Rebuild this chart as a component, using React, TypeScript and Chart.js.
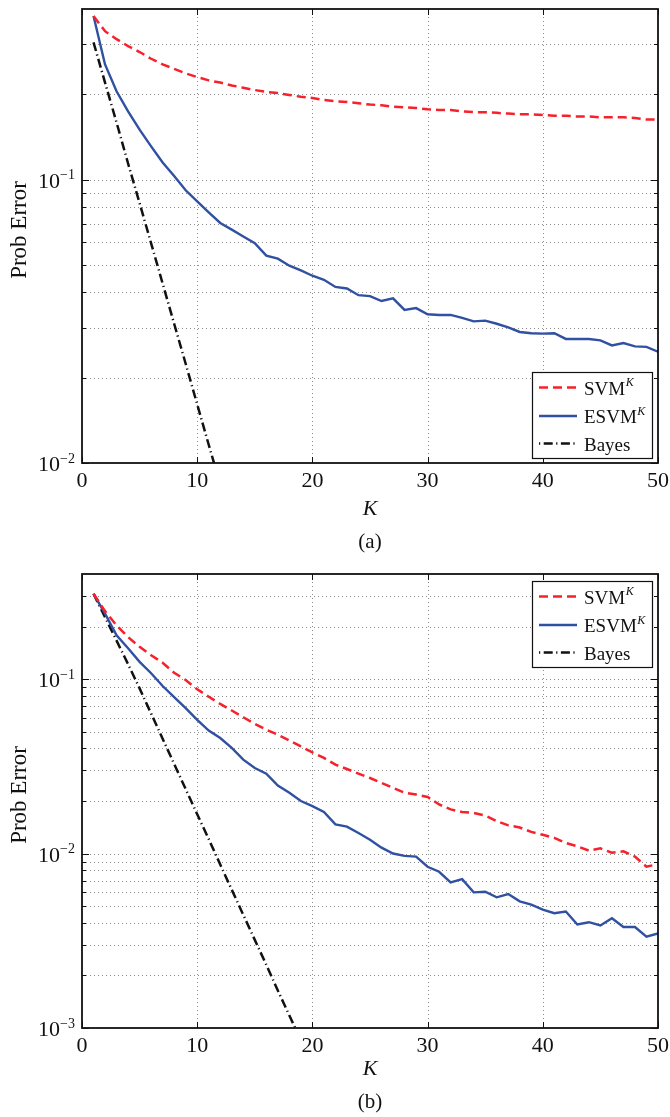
import React, { useEffect, useRef } from 'react';
import { Chart, registerables } from 'chart.js';

Chart.register(...registerables);

// ---------- data ----------
const kValues = [1, 2, 3, 4, 5, 6, 7, 8, 9, 10, 11, 12, 13, 14, 15, 16, 17, 18, 19, 20, 21, 22, 23, 24, 25,
  26, 27, 28, 29, 30, 31, 32, 33, 34, 35, 36, 37, 38, 39, 40, 41, 42, 43, 44, 45, 46, 47, 48, 49, 50];

// (a)
const svmA = [0.378, 0.334, 0.313, 0.296, 0.282, 0.267, 0.255, 0.246, 0.237, 0.230, 0.224, 0.220, 0.215, 0.211,
  0.207, 0.204, 0.202, 0.199, 0.196, 0.194, 0.191, 0.189, 0.188, 0.186, 0.184, 0.183, 0.181, 0.180, 0.179, 0.177,
  0.176, 0.176, 0.174, 0.173, 0.173, 0.172, 0.171, 0.170, 0.170, 0.169, 0.168, 0.168, 0.167, 0.167, 0.166, 0.166,
  0.166, 0.165, 0.163, 0.163];
const esvmA = [0.378, 0.255, 0.205, 0.174, 0.150, 0.131, 0.115, 0.103, 0.0917, 0.0838, 0.0767, 0.0703, 0.0666,
  0.063, 0.0597, 0.0539, 0.0526, 0.0497, 0.0478, 0.0458, 0.0443, 0.0418, 0.0413, 0.0391, 0.0388, 0.0373, 0.0381,
  0.0347, 0.0352, 0.0335, 0.0333, 0.0333, 0.0325, 0.0316, 0.0318, 0.031, 0.0301, 0.029, 0.0287, 0.0286, 0.0287,
  0.0274, 0.0274, 0.0274, 0.0271, 0.026, 0.0265, 0.0258, 0.0257, 0.0247];
const kBayesA = [1, 2, 3, 4, 5, 6, 7, 8, 9, 10, 11, 12];
const bayesA = [0.305, 0.220, 0.159, 0.114, 0.0826, 0.0596, 0.0430, 0.0310, 0.0224, 0.0161, 0.0116, 0.0084];

// (b)
const svmB = [0.308, 0.245, 0.203, 0.174, 0.153, 0.137, 0.124, 0.1086, 0.0987, 0.0873, 0.0792, 0.072, 0.066,
  0.0604, 0.0554, 0.0512, 0.048, 0.0445, 0.0411, 0.038, 0.0353, 0.0323, 0.0305, 0.0287, 0.0271, 0.0254, 0.0238,
  0.0223, 0.0218, 0.0211, 0.0191, 0.0179, 0.0173, 0.0171, 0.0165, 0.01535, 0.0145, 0.0141, 0.0133, 0.0128, 0.0123,
  0.0115, 0.0110, 0.0104, 0.0107, 0.0101, 0.0103, 0.0096, 0.0084, 0.0087];
const esvmB = [0.308, 0.237, 0.178, 0.150, 0.1255, 0.108, 0.0912, 0.0787, 0.0681, 0.0584, 0.0507, 0.0459, 0.0403,
  0.0345, 0.0309, 0.0287, 0.0245, 0.0223, 0.020, 0.0187, 0.0173, 0.0147, 0.01426, 0.0131, 0.012, 0.0108, 0.0100,
  0.0097, 0.0096, 0.0084, 0.00786, 0.00684, 0.00713, 0.00599, 0.00604, 0.00561, 0.00586, 0.00532, 0.00509, 0.00477,
  0.00455, 0.00465, 0.00392, 0.00404, 0.00387, 0.00426, 0.00379, 0.00379, 0.00334, 0.00348];
const kBayesB = [1, 2, 3, 4, 5, 6, 7, 8, 9, 10, 11, 12, 13, 14, 15, 16, 17, 18, 19];
const bayesB = [0.308, 0.226, 0.166, 0.1217, 0.0884, 0.0634, 0.0455, 0.0326, 0.0234, 0.0168, 0.0121, 0.00864,
  0.0062, 0.00445, 0.0032, 0.0023, 0.00164, 0.00118, 0.00085];

// ticks / grid
const xTicks = [0, 10, 20, 30, 40, 50];
const xTickLabels = ['0', '10', '20', '30', '40', '50'];
const yDecadesA = [0.01, 0.1];
const yExpA = ['\u22122', '\u22121'];
const yMinorA = [0.02, 0.03, 0.04, 0.05, 0.06, 0.07, 0.08, 0.09, 0.2, 0.3];
const yDecadesB = [0.001, 0.01, 0.1];
const yExpB = ['\u22123', '\u22122', '\u22121'];
const yMinorB = [0.002, 0.003, 0.004, 0.005, 0.006, 0.007, 0.008, 0.009,
  0.02, 0.03, 0.04, 0.05, 0.06, 0.07, 0.08, 0.09, 0.2, 0.3];

const seriesNames = ['SVM', 'ESVM', 'Bayes'];
const seriesSup = ['K', 'K', ''];

const RED = '#f8202a';
const BLUE = '#3050a2';
const BLACK = '#111111';
const FONT = '"Liberation Serif", "DejaVu Serif", serif';

type Cfg = {
  yMin: number;
  yMax: number;
  decades: number[];
  exps: string[];
  minor: number[];
  caption: string;
  legendAtTop: boolean;
  padTop: number;
  axisH: number;
  canvasH: number;
};

function makePlugin(cfg: Cfg) {
  return {
    id: 'paperDecor',
    beforeDatasetsDraw(chart: any) {
      const { ctx, chartArea: a, scales } = chart;
      const xs = scales.x, ys = scales.y;
      ctx.save();
      ctx.strokeStyle = '#8c8c8c';
      ctx.lineWidth = 1;
      ctx.setLineDash([1, 3]);
      for (const v of xTicks) {
        const px = Math.round(xs.getPixelForValue(v)) + 0.5;
        if (px < a.left + 2 || px > a.right - 2) continue;
        ctx.beginPath();
        ctx.moveTo(px, a.top);
        ctx.lineTo(px, a.bottom);
        ctx.stroke();
      }
      for (const v of [...cfg.decades, ...cfg.minor]) {
        const py = Math.round(ys.getPixelForValue(v)) + 0.5;
        if (py < a.top + 2 || py > a.bottom - 2) continue;
        ctx.beginPath();
        ctx.moveTo(a.left, py);
        ctx.lineTo(a.right, py);
        ctx.stroke();
      }
      ctx.restore();
    },
    afterDatasetsDraw(chart: any) {
      const { ctx, chartArea: a, scales } = chart;
      const xs = scales.x, ys = scales.y;
      ctx.save();
      ctx.setLineDash([]);
      ctx.strokeStyle = BLACK;
      // inward ticks
      ctx.lineWidth = 1;
      for (const v of xTicks) {
        const px = Math.round(xs.getPixelForValue(v)) + 0.5;
        ctx.beginPath();
        ctx.moveTo(px, a.bottom); ctx.lineTo(px, a.bottom - 6);
        ctx.moveTo(px, a.top); ctx.lineTo(px, a.top + 6);
        ctx.stroke();
      }
      const yTickSet: [number, number][] = [
        ...cfg.decades.map((v) => [v, 7] as [number, number]),
        ...cfg.minor.map((v) => [v, 4] as [number, number]),
      ];
      for (const [v, len] of yTickSet) {
        const py = Math.round(ys.getPixelForValue(v)) + 0.5;
        ctx.beginPath();
        ctx.moveTo(a.left, py); ctx.lineTo(a.left + len, py);
        ctx.moveTo(a.right, py); ctx.lineTo(a.right - len, py);
        ctx.stroke();
      }
      // frame
      ctx.lineWidth = 1.8;
      ctx.strokeRect(a.left, a.top, a.right - a.left, a.bottom - a.top);

      // legend
      const bw = 120, bh = 86;
      const bx = a.right - 6 - bw;
      const by = cfg.legendAtTop ? a.top + 7 : a.bottom - 5 - bh;
      ctx.fillStyle = '#ffffff';
      ctx.fillRect(bx, by, bw, bh);
      ctx.lineWidth = 1.2;
      ctx.strokeStyle = BLACK;
      ctx.strokeRect(bx + 0.5, by + 0.5, bw, bh);
      const rows = [15.5, 44, 71.5];
      chart.data.datasets.forEach((ds: any, i: number) => {
        const ry = by + rows[i];
        ctx.save();
        ctx.strokeStyle = ds.borderColor;
        ctx.lineWidth = ds.borderWidth;
        ctx.setLineDash(ds.legendDash || ds.borderDash || []);
        ctx.beginPath();
        ctx.moveTo(bx + 7, ry);
        ctx.lineTo(bx + 45, ry);
        ctx.stroke();
        ctx.restore();
        ctx.fillStyle = BLACK;
        ctx.textAlign = 'left';
        ctx.textBaseline = 'alphabetic';
        ctx.font = `19px ${FONT}`;
        const name = seriesNames[i];
        ctx.fillText(name, bx + 52, ry + 7);
        if (seriesSup[i]) {
          const w = ctx.measureText(name).width;
          ctx.font = `italic 12px ${FONT}`;
          ctx.fillText(seriesSup[i], bx + 52 + w + 0.5, ry - 1.5);
        }
      });

      // x tick labels
      ctx.fillStyle = BLACK;
      ctx.font = `22px ${FONT}`;
      ctx.textAlign = 'center';
      ctx.textBaseline = 'alphabetic';
      xTicks.forEach((v, i) => {
        const px = xs.getPixelForValue(v);
        ctx.fillText(xTickLabels[i], px, a.bottom + 16 + 7.5);
      });
      // y tick labels 10^n
      cfg.decades.forEach((v, i) => {
        const py = ys.getPixelForValue(v);
        ctx.font = `14px ${FONT}`;
        const ws = ctx.measureText(cfg.exps[i]).width;
        ctx.font = `22px ${FONT}`;
        const wb = ctx.measureText('10').width;
        const right = a.left - 7;
        ctx.textAlign = 'left';
        ctx.fillText('10', right - ws - wb, py + 8);
        ctx.font = `14px ${FONT}`;
        ctx.fillText(cfg.exps[i], right - ws, py - 0.5);
      });
      // axis titles
      ctx.textAlign = 'center';
      ctx.font = `italic 22px ${FONT}`;
      ctx.fillText('K', (a.left + a.right) / 2, 507 + 7.5);
      ctx.font = `21px ${FONT}`;
      ctx.fillText(cfg.caption, (a.left + a.right) / 2, 541 + 7);
      ctx.save();
      ctx.translate(20, (a.top + a.bottom) / 2 - 6);
      ctx.rotate(-Math.PI / 2);
      ctx.font = `23px ${FONT}`;
      ctx.textBaseline = 'middle';
      ctx.fillText('Prob Error', 0, 0);
      ctx.restore();
      ctx.restore();
    },
  };
}

function pts(ks: number[], vs: number[]) {
  return ks.map((k, i) => ({ x: k, y: vs[i] }));
}

function PaperChart({ cfg, svm, esvm, kb, bayes, top }: any) {
  const ref = useRef<HTMLCanvasElement | null>(null);
  useEffect(() => {
    if (!ref.current) return;
    const chart = new Chart(ref.current, {
      type: 'line',
      data: {
        datasets: [
          { label: seriesNames[0], data: pts(kValues, svm), borderColor: RED, borderWidth: 2.5, borderDash: [9, 5], pointRadius: 0, tension: 0, fill: false } as any,
          { label: seriesNames[1], data: pts(kValues, esvm), borderColor: BLUE, borderWidth: 2.4, pointRadius: 0, tension: 0, fill: false } as any,
          { label: seriesNames[2], data: pts(kb, bayes), borderColor: BLACK, borderWidth: 2.5, borderDash: [9, 3.5, 1.2, 3.5], legendDash: [1.2, 3.5, 9, 3.5], pointRadius: 0, tension: 0, fill: false } as any,
        ],
      },
      options: {
        responsive: false,
        animation: false,
        events: [],
        layout: { padding: { left: 0, right: 12, top: cfg.padTop, bottom: 0 } },
        plugins: { legend: { display: false }, tooltip: { enabled: false } },
        scales: {
          x: {
            type: 'linear', min: 0, max: 50,
            ticks: { display: false }, grid: { display: false }, border: { display: false },
            afterFit: (s: any) => { s.height = cfg.axisH; },
          },
          y: {
            type: 'logarithmic', min: cfg.yMin, max: cfg.yMax,
            ticks: { display: false }, grid: { display: false }, border: { display: false },
            afterFit: (s: any) => { s.width = 82; },
          },
        },
      } as any,
      plugins: [makePlugin(cfg) as any],
    });
    return () => chart.destroy();
  }, []);
  return (
    <canvas
      ref={ref}
      width={670}
      height={cfg.canvasH}
      style={{ position: 'absolute', left: 0, top, width: 670, height: cfg.canvasH, display: 'block' }}
    />
  );
}

const cfgA: Cfg = {
  yMin: 0.01, yMax: 0.4, decades: yDecadesA, exps: yExpA, minor: yMinorA, caption: '(a)',
  legendAtTop: false, padTop: 9, axisH: 97, canvasH: 560,
};
const cfgB: Cfg = {
  yMin: 0.001, yMax: 0.4, decades: yDecadesB, exps: yExpB, minor: yMinorB, caption: '(b)',
  legendAtTop: true, padTop: 14, axisH: 89, canvasH: 557,
};

export default function App() {
  return (
    <div style={{ position: 'absolute', left: 0, top: 0, width: 670, height: 1117, background: '#fff' }}>
      <PaperChart cfg={cfgA} svm={svmA} esvm={esvmA} kb={kBayesA} bayes={bayesA} top={0} />
      <PaperChart cfg={cfgB} svm={svmB} esvm={esvmB} kb={kBayesB} bayes={bayesB} top={560} />
    </div>
  );
}
